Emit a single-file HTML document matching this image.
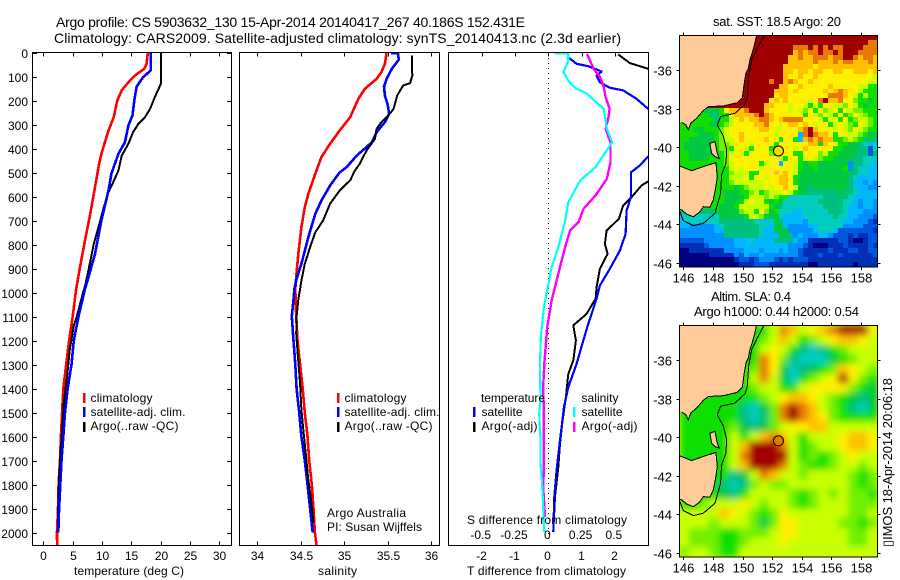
<!DOCTYPE html>
<html lang="en">
<head>
<meta charset="utf-8">
<title>Argo profile CS 5903632_130</title>
<style>
html,body{margin:0;padding:0;background:#fff;}
svg{display:block;}
text{font-family:"Liberation Sans",sans-serif;fill:#000;font-size:12px;}
.title{font-size:14px;}
.map{font-size:13px;}
</style>
</head>
<body>
<svg id="chart" xmlns="http://www.w3.org/2000/svg" width="900" height="580" viewBox="0 0 900 580">
  <defs>
    <clipPath id="clip-temp"><rect x="33" y="53" width="198" height="492"/></clipPath>
    <clipPath id="clip-sal"><rect x="240" y="53" width="199" height="492"/></clipPath>
    <clipPath id="clip-diff"><rect x="449" y="53" width="199" height="492"/></clipPath>
    <clipPath id="clip-map-sst"><rect x="679.5" y="35.5" width="198" height="231.5"/></clipPath>
    <clipPath id="clip-map-sla"><rect x="679.5" y="325.5" width="198" height="231.5"/></clipPath>
    <filter id="smooth" x="-5%" y="-5%" width="110%" height="110%"><feGaussianBlur stdDeviation="3.4"/></filter>
  </defs>

  <text class="title" x="56" y="27" textLength="469" lengthAdjust="spacing">Argo profile: CS 5903632_130 15-Apr-2014 20140417_267 40.186S 152.431E</text>
  <text class="title" x="54" y="43" textLength="567" lengthAdjust="spacing">Climatology: CARS2009. Satellite-adjusted climatology: synTS_20140413.nc (2.3d earlier)</text>

  <g id="p-temp"></g>
  <g id="p-sal"></g>
  <g id="p-diff"></g>
  <g id="m-sst"></g>
  <g id="m-sla"></g>

  <text x="74" y="575" textLength="110" lengthAdjust="spacing">temperature (deg C)</text>
  <text x="318" y="575" textLength="39" lengthAdjust="spacing">salinity</text>
  <text x="467" y="575" textLength="159" lengthAdjust="spacing">T difference from climatology</text>
  <text x="467" y="524" textLength="160" lengthAdjust="spacing">S difference from climatology</text>

  <g>
    <rect x="83" y="393" width="2.5" height="10" fill="#f00"/>
    <rect x="83" y="407" width="2.5" height="10" fill="#00f"/>
    <rect x="83" y="422" width="2.5" height="10" fill="#000"/>
    <text x="90.5" y="402" textLength="62" lengthAdjust="spacing">climatology</text>
    <text x="90.5" y="416" textLength="95" lengthAdjust="spacing">satellite-adj. clim.</text>
    <text x="90.5" y="430" textLength="88" lengthAdjust="spacing">Argo(..raw -QC)</text>
  </g>
  <g>
    <rect x="337" y="393" width="2.5" height="10" fill="#f00"/>
    <rect x="337" y="407" width="2.5" height="10" fill="#00f"/>
    <rect x="337" y="422" width="2.5" height="10" fill="#000"/>
    <text x="344.5" y="402" textLength="62" lengthAdjust="spacing">climatology</text>
    <text x="344.5" y="416" textLength="95" lengthAdjust="spacing">satellite-adj. clim.</text>
    <text x="344.5" y="430" textLength="88" lengthAdjust="spacing">Argo(..raw -QC)</text>
  </g>
  <text x="327" y="517" textLength="79" lengthAdjust="spacing">Argo Australia</text>
  <text x="327" y="531" textLength="95" lengthAdjust="spacing">PI: Susan Wijffels</text>

  <g>
    <text x="481" y="402" textLength="64" lengthAdjust="spacing">temperature</text>
    <text x="581.5" y="402" textLength="37" lengthAdjust="spacing">salinity</text>
    <rect x="473" y="407" width="2.5" height="10" fill="#00f"/>
    <rect x="473" y="422" width="2.5" height="10" fill="#000"/>
    <rect x="573" y="407" width="2.5" height="10" fill="#0ff"/>
    <rect x="573" y="422" width="2.5" height="10" fill="#f0f"/>
    <text x="481.5" y="416" textLength="41" lengthAdjust="spacing">satellite</text>
    <text x="481.5" y="430" textLength="56" lengthAdjust="spacing">Argo(-adj)</text>
    <text x="581.5" y="416" textLength="41" lengthAdjust="spacing">satellite</text>
    <text x="581.5" y="430" textLength="56" lengthAdjust="spacing">Argo(-adj)</text>
  </g>

  <text class="map" x="713" y="26" textLength="128" lengthAdjust="spacing">sat. SST: 18.5 Argo: 20</text>
  <text class="map" x="711" y="301" textLength="80" lengthAdjust="spacing">Altim. SLA: 0.4</text>
  <text class="map" x="694" y="316" textLength="165" lengthAdjust="spacing">Argo h1000: 0.44 h2000: 0.54</text>
  <text class="map" transform="translate(892,547) rotate(-90)" x="0" y="0" textLength="169" lengthAdjust="spacing">&#9647;IMOS 18-Apr-2014 20:06:18</text>
</svg>

<script>
// ---------- axis tick values ----------
const depthTicks = [0,100,200,300,400,500,600,700,800,900,1000,1100,1200,1300,1400,1500,1600,1700,1800,1900,2000];
const tempTicks = [0,5,10,15,20,25,30];
const salTicks = [34,34.5,35,35.5,36];
const tDiffTicks = [-2,-1,0,1,2];
const sDiffTicks = [-0.5,-0.25,0,0.25,0.5];
const lonTicks = [146,148,150,152,154,156,158];
const latTicks = [36,38,40,42,44,46];
const argoLon = [152.431];
const argoLat = [40.186];

// ---------- temperature profiles ----------
const tempClimDepth = [0,47,68,96,124,158,200,270,325,422,464,561,672,783,894,985,1100,1200,1300,1400,1500,1600,1700,1800,1900,2000,2055];
const tempClim = [17.8,17.6,17.2,15.6,14.5,13.35,12.6,12,11.1,9.9,9.5,8.8,8,7.1,6.25,5.6,5,4.4,3.9,3.4,3.2,3,2.85,2.6,2.5,2.33,2.35];
const tempSatDepth = [0,75,103,142,200,262,304,374,422,505,575,700,839,936,985,1100,1200,1300,1400,1500,1600,1700,1800,1900,2000];
const tempSat = [18.3,18.3,17,15.9,15.5,15.2,14.5,13.9,12.8,11.6,11.1,9.9,8.8,7.7,7.1,6,5.2,4.8,4.15,3.7,3.4,3.1,2.9,2.7,2.55];
const tempArgoDepth = [0,130,186,235,270,297,332,380,430,492,540,582,644,728,797,894,964,998,1100,1137,1240,1350,1460,1590,1700,1810,2000];
const tempArgo = [20.05,20.05,19,18.2,17.3,16.2,15.3,14.5,13.35,12.8,11.9,11.1,10.3,9.4,8.6,7.8,7.2,6.8,5.7,5.2,4.5,4.05,3.5,3.15,2.85,2.6,2.45];

// ---------- salinity profiles ----------
const salClimDepth = [0,47,82,110,151,193,270,325,380,436,505,589,644,728,839,936,985,1100,1200,1300,1400,1500,1600,1700,1800,1900,2000,2055];
const salClim = [35.49,35.47,35.43,35.375,35.24,35.165,35.07,34.95,34.84,34.74,34.67,34.59,34.55,34.51,34.475,34.45,34.44,34.45,34.465,34.495,34.525,34.55,34.58,34.6,34.63,34.65,34.665,34.685];
const salSatDepth = [2,3,30,68,110,142,180,214,255,290,332,374,400,430,478,499,554,617,672,770,881,943,985,1030,1100,1200,1300,1400,1500,1600,1700,1800,1900,2000];
const salSat = [35.54,35.62,35.63,35.55,35.49,35.46,35.47,35.5,35.52,35.47,35.375,35.32,35.24,35.145,35.03,34.95,34.84,34.74,34.67,34.59,34.51,34.455,34.43,34.42,34.4,34.42,34.44,34.455,34.485,34.51,34.55,34.58,34.61,34.64];
const salArgoDepth = [12,96,128,137,180,235,262,290,318,360,408,464,492,533,575,630,700,749,811,881,950,985,1030,1100,1170,1265,1380,1490,1600,1690,1780,1860,1960];
const salArgo = [35.78,35.785,35.76,35.68,35.61,35.57,35.51,35.43,35.375,35.355,35.26,35.18,35.125,35.07,34.95,34.84,34.76,34.67,34.61,34.55,34.51,34.495,34.475,34.455,34.45,34.47,34.495,34.51,34.54,34.565,34.59,34.62,34.65];

// ---------- difference profiles ----------
const tDiffSatDepth = [17,47,57,79,96,124,147,158,193,235,325,380,433,471,499,603,658,756,825,901,971,1026,1047,1130,1200,1297,1394,1477,1616,1741,1852,1998];
const tDiffSat = [0.57,0.85,1.2,1.6,1.45,1.55,1.85,2.25,2.65,3,3.75,3.8,3,2.75,2.48,2.48,2.35,2.32,2.15,1.85,1.55,1.45,1.4,1.2,1.05,0.85,0.6,0.47,0.35,0.25,0.18,0.15];
const tDiffArgoDepth = [8,44,68,186,464,537,554,603,637,693,742,797,839,901,978,1026,1089,1137,1200,1283,1339,1436,1533,1630,1727,1852,1998];
const tDiffArgo = [2.1,2.45,3,3.75,3.75,3,2.8,2.5,2.25,2.12,1.75,1.7,1.78,1.55,1.45,1.42,1.15,0.75,0.83,0.75,0.6,0.53,0.43,0.35,0.3,0.2,0.15];
const sDiffSatDepth = [3,5,33,82,117,147,172,235,318,374,415,478,533,624,700,811,894,1019,1061,1186,1311,1450,1505,1616,1714,1783,1894,1998];
const sDiffSat = [0.05,0.15,0.15,0.114,0.15,0.2,0.29,0.417,0.44,0.48,0.43,0.354,0.24,0.15,0.126,0.076,0.025,-0.018,-0.033,-0.056,-0.063,-0.058,-0.068,-0.058,-0.058,-0.048,-0.038,-0.03];
const sDiffArgoDepth = [5,68,103,144,186,235,276,318,374,457,526,596,651,707,742,811,894,978,1033,1075,1144,1214,1297,1394,1505,1616,1727,1811,1936];
const sDiffArgo = [0.29,0.34,0.39,0.417,0.43,0.46,0.45,0.43,0.467,0.467,0.44,0.354,0.265,0.227,0.164,0.126,0.088,0.05,0.025,0.013,-0.008,-0.018,-0.03,-0.038,-0.033,-0.033,-0.033,-0.038,-0.025];

// ---------- map geography (lon east, lat south) ----------
const mainlandLon = [150.95,150.84,150.68,150.5,150.39,150.23,150.1,149.99,149.65,148.7,147.69,147.35,146.9,146.5,146.34,146.18,145.9];
const mainlandLat = [34.18,34.6,35.03,35.46,35.9,36.16,36.76,37.4,37.68,37.85,37.89,38.09,38.49,38.75,39.1,38.84,38.7];
const tasmaniaLon = [145.7,146.56,147.35,148.2,148.3,148.18,148.03,147.8,147.35,147.13,146.68,146.23,145.9,145.7];
const tasmaniaLat = [40.95,41.21,41,40.79,41.52,42.12,42.73,43.11,43.08,43.34,43.6,43.46,43.25,43.2];
const flindersLon = [147.8,148.14,148.3,148.43,148.14,147.91];
const flindersLat = [39.79,39.7,40.31,40.57,40.48,40.31];
const isobathLon = [151.47,151,150.62,150.41,150.32,150.17,149.49,148.52,148.3,148.7,148.93,148.88,148.59,148.52,148.14,147.35,146.68,146,145.77];
const isobathLat = [34.18,34.86,35.46,36.33,37.4,37.75,38.23,38.4,38.84,39.41,40.13,40.83,41.43,42.38,43.42,43.94,44.06,43.8,43.34];

// ---------- SST grid (colour level per cell, north to south) ----------
const sstGrid = [
[14,14,14,14,14,14,14,14,14,14,14,14,14,14,14,14,14,14,14,14,14,14,14,14,14,14,14,14,14,14,14,14,14,14,14,14,14,14,14,14],
[14,14,14,14,14,14,14,14,14,14,14,14,14,14,14,14,14,14,14,14,14,14,14,14,14,14,14,14,14,14,14,14,14,14,14,14,14,14,13,13],
[14,14,14,14,14,14,14,14,14,14,14,14,14,14,14,14,14,14,14,14,14,14,14,13,13,13,14,13,14,13,14,13,13,14,14,14,14,13,13,13],
[14,14,14,14,14,14,14,14,14,14,14,14,14,14,14,14,14,14,14,14,14,14,14,12,13,12,13,13,14,13,13,14,13,14,14,14,13,13,13,13],
[14,14,14,14,14,14,14,14,14,14,14,14,14,14,14,14,14,14,14,14,14,14,12,12,13,12,12,13,13,13,12,13,13,14,14,13,12,13,13,12],
[14,14,14,14,14,14,14,14,14,14,14,14,14,14,14,14,14,14,14,14,14,14,12,12,12,12,12,13,12,12,12,13,12,13,13,12,12,12,13,12],
[14,14,14,14,14,14,14,14,14,14,14,14,14,14,14,14,14,14,14,14,14,12,12,12,12,12,12,11,12,12,12,12,12,12,12,12,12,12,12,12],
[14,14,14,14,14,14,14,14,14,14,14,14,14,14,14,14,14,14,14,14,14,12,12,11,12,12,11,12,12,11,11,12,12,11,11,12,12,12,11,12],
[14,14,14,14,14,14,14,14,14,14,14,14,14,14,14,14,14,14,14,14,14,12,11,11,12,11,11,12,11,11,11,11,11,11,11,11,11,11,11,10],
[14,14,14,14,14,14,14,14,14,14,14,14,14,14,14,14,14,14,13,14,14,12,13,12,11,11,12,11,11,11,11,11,11,11,11,11,11,11,10,10],
[14,14,14,14,14,14,14,14,14,14,14,14,14,14,14,14,14,14,14,14,12,12,11,11,12,11,11,11,11,11,12,11,11,11,11,11,10,10,8,8],
[14,14,14,14,14,14,14,14,14,14,14,14,14,14,14,14,14,14,14,12,12,12,11,12,11,11,11,11,11,12,11,12,13,12,11,11,10,8,8,8],
[14,14,14,14,14,14,14,14,14,14,14,14,14,14,14,14,14,14,14,11,12,12,11,11,11,11,11,11,11,11,13,13,13,12,11,10,8,10,8,8],
[14,14,14,14,14,14,14,14,14,14,14,14,14,14,14,14,14,14,11,12,11,12,11,11,11,11,10,11,13,14,12,12,13,11,11,9,8,8,7,8],
[14,14,14,14,14,14,14,14,14,14,14,14,14,14,14,14,14,12,12,11,11,11,10,11,11,10,8,10,8,11,11,10,10,9,11,10,8,7,8,8],
[8,8,8,8,8,7,7,7,8,11,12,12,12,13,14,14,14,12,11,11,11,11,10,11,10,9,11,8,11,9,10,11,8,11,10,9,9,8,8,8],
[8,8,8,8,8,8,6,6,8,8,11,12,12,12,12,13,14,13,12,11,11,11,11,11,11,8,11,10,9,11,10,8,11,8,9,11,10,9,8,8],
[8,8,8,8,8,8,8,6,8,8,10,11,12,11,12,12,13,13,12,11,12,13,13,13,13,11,11,11,10,8,10,11,8,11,8,9,10,10,9,8],
[8,8,8,8,8,8,7,7,8,9,10,11,11,11,11,12,12,13,11,11,10,11,12,12,11,12,11,10,11,11,8,10,11,10,9,8,11,10,9,8],
[8,8,8,7,7,8,8,8,9,10,11,11,11,11,11,11,12,12,11,10,11,11,11,11,12,13,14,12,11,11,11,10,11,10,9,11,10,9,8,8],
[8,8,8,8,7,7,7,8,9,10,11,11,12,11,11,11,11,11,11,10,11,11,11,11,4,13,14,13,12,12,11,8,11,11,10,10,9,8,7,7],
[8,8,7,7,7,7,7,8,9,10,10,11,12,11,11,11,11,12,11,11,8,11,11,8,4,12,13,12,13,12,12,8,8,9,10,9,8,6,7,6],
[8,7,7,7,7,7,7,8,9,9,10,11,11,11,10,11,11,11,11,8,11,11,11,11,11,11,12,12,8,12,11,11,8,8,7,7,6,5,4,5],
[8,7,7,7,7,7,7,8,9,9,8,11,11,10,8,11,11,11,8,7,11,11,11,10,11,12,11,11,11,11,11,8,8,7,7,7,6,6,2,5],
[8,8,7,7,7,7,7,8,8,9,10,11,10,8,11,11,11,11,9,8,11,11,11,8,8,11,11,11,9,10,8,8,7,7,7,7,6,6,2,6],
[8,8,7,7,7,7,8,8,8,9,11,11,11,11,11,11,11,11,11,11,10,8,11,11,8,10,11,10,9,8,8,7,7,7,7,6,6,5,5,5],
[8,8,8,8,8,8,8,8,8,9,10,11,11,11,11,11,8,10,11,11,4,11,11,10,8,7,8,8,7,7,7,7,7,7,3,6,6,5,5,4],
[8,8,8,8,8,8,8,8,8,8,10,11,10,11,11,11,10,11,11,11,11,11,11,10,8,7,7,8,7,7,7,7,7,8,3,6,5,5,4,4],
[8,8,8,8,8,8,8,8,8,8,9,10,10,10,8,8,11,11,11,12,11,12,11,10,7,7,7,7,7,7,7,7,7,7,7,6,5,5,4,4],
[8,8,8,8,8,8,8,8,8,8,10,10,10,11,8,11,11,10,11,11,12,12,11,8,7,7,7,7,7,7,7,7,7,7,6,5,4,4,4,4],
[8,8,8,8,8,8,8,8,8,8,9,10,10,10,10,10,10,11,11,11,12,12,11,8,7,7,7,7,7,7,7,7,7,7,6,4,4,3,4,3],
[8,8,8,8,8,8,8,8,8,8,8,7,8,9,10,10,10,11,10,11,11,12,11,10,7,7,6,7,7,7,7,7,7,7,6,5,4,4,3,3],
[8,8,8,8,8,8,8,8,8,7,7,7,8,8,9,10,8,9,10,10,10,11,10,8,7,7,6,6,6,6,6,6,7,6,6,5,4,4,4,4],
[8,8,8,8,8,8,8,8,8,7,7,7,7,8,10,10,10,9,10,9,8,8,5,5,5,5,5,5,5,6,6,6,6,6,5,4,4,4,4,4],
[8,8,8,8,8,8,8,8,8,7,7,7,8,10,11,10,10,8,7,8,7,5,5,5,5,5,5,5,6,6,6,6,6,5,5,4,3,4,4,3],
[8,8,8,8,8,8,8,8,7,7,7,8,10,10,10,10,10,10,8,7,6,5,5,5,5,5,5,5,5,6,6,6,6,5,4,4,3,4,4,3],
[6,6,6,6,6,6,6,7,7,7,7,7,9,10,10,8,11,9,7,8,5,5,5,4,4,5,5,5,5,5,6,6,6,5,4,4,4,3,3,3],
[5,5,5,5,5,5,5,5,7,7,7,7,6,8,10,10,9,7,7,7,5,4,4,4,4,5,5,5,5,5,5,6,5,5,4,4,3,3,3,2],
[4,5,5,5,5,5,5,5,6,6,6,6,6,6,6,5,5,4,5,7,6,4,4,4,4,3,5,5,5,5,5,5,5,4,4,3,3,3,2,1],
[4,4,3,3,3,3,3,4,5,6,6,6,6,6,6,6,5,5,4,7,7,4,3,3,3,3,4,4,5,5,5,5,5,3,3,3,3,2,2,2],
[3,3,3,3,3,3,3,4,4,6,6,6,6,6,6,6,5,4,4,7,7,7,3,3,3,3,3,4,5,5,5,4,2,2,2,2,2,2,2,1],
[3,3,3,3,3,3,3,3,3,6,6,6,6,6,6,6,5,4,4,4,7,7,6,3,4,3,3,3,4,4,3,2,2,2,1,2,1,1,2,2],
[2,2,2,2,2,3,3,3,3,3,3,4,4,4,5,4,4,4,4,6,6,6,6,4,3,3,1,1,1,1,1,1,2,2,1,0,0,1,2,2],
[1,1,1,1,1,2,3,3,3,3,3,4,4,4,4,4,4,4,4,4,4,4,3,3,3,2,1,0,0,0,1,1,1,2,1,1,1,1,2,1],
[0,0,1,1,1,1,1,1,1,3,3,3,3,4,4,4,3,4,4,4,3,4,3,3,2,1,1,1,1,1,2,1,1,1,2,2,1,1,2,2],
[0,0,0,0,0,0,1,1,1,1,1,3,2,4,3,3,4,3,3,3,3,3,3,3,2,1,1,1,2,1,1,1,2,1,1,1,1,1,1,2],
[0,0,0,0,0,0,0,0,0,0,0,1,2,2,1,2,3,3,3,2,1,2,1,2,2,2,1,1,1,1,1,1,1,1,1,1,1,1,1,1],
[0,0,0,0,0,0,0,0,0,0,0,0,1,1,1,2,2,2,1,1,1,1,1,1,1,1,0,0,1,1,1,1,1,1,1,0,1,1,1,1]
];

// ---------- SLA grid (colour level per cell, north to south) ----------
const slaGrid = [
[8,8,8,8,8,8,8,8,8,10,13,12,10,11,12,13,14,14,14,11],
[8,8,8,8,8,8,8,8,9,10,12,10,8,9,10,11,12,12,11,10],
[8,8,8,8,8,8,8,8,10,11,10,8,6,5,6,8,9,10,10,10],
[8,8,8,8,8,8,8,8,13,11,9,6,5,5,5,7,8,9,10,10],
[8,8,8,8,8,8,8,9,13,11,7,5,6,7,8,9,12,11,10,9],
[8,8,8,8,8,8,8,10,13,10,7,5,8,9,10,11,14,11,9,8],
[8,8,8,8,8,8,8,9,10,10,8,8,10,11,11,11,11,9,8,7],
[8,8,8,8,8,8,8,8,9,10,11,12,12,11,10,9,8,7,6,7],
[8,8,8,8,8,8,6,5,7,9,13,14,13,12,10,9,8,6,5,7],
[8,8,8,8,8,8,6,5,6,9,13,14,13,12,11,9,8,8,8,8],
[8,8,8,8,8,9,7,6,7,9,10,11,11,12,12,10,10,10,10,10],
[8,8,8,8,8,10,8,10,12,13,12,10,8,10,10,10,11,12,12,11],
[8,8,8,8,8,10,12,14,14,14,13,10,8,9,10,10,11,12,12,11],
[8,8,8,8,8,10,13,14,14,14,14,10,8,9,8,9,10,11,10,10],
[8,8,8,8,8,10,12,14,14,14,13,10,9,8,8,9,10,10,9,10],
[8,8,8,8,8,6,7,10,13,12,10,10,9,10,10,10,10,9,8,9],
[8,8,8,8,6,5,6,9,10,9,9,10,10,10,10,10,10,9,8,9],
[8,8,8,8,7,6,8,10,10,10,10,9,8,9,10,9,10,9,9,8],
[8,8,9,10,10,10,11,10,9,10,10,9,8,9,10,10,10,9,9,9],
[10,10,10,10,12,11,10,9,8,9,11,10,10,10,10,10,10,9,9,10],
[10,10,10,9,10,10,10,9,7,9,11,11,10,10,10,10,9,9,8,9],
[10,9,9,9,8,8,9,9,9,10,11,11,10,10,10,10,10,9,9,10],
[10,9,9,9,8,8,9,10,10,10,11,10,10,10,10,10,10,9,9,10],
[9,10,10,9,8,8,10,10,10,10,10,10,10,10,10,10,10,10,10,10]
];

const levelColors = ['#000080','#0030b8','#0058e0','#0090ff','#00b8ff','#00ccc0','#00c080','#00c840','#10e000','#70f000','#c8ff00','#fff000','#ffc000','#e87800','#a00000'];

// ---------- axis functions ----------
const NS = 'http://www.w3.org/2000/svg';
const yDepth = d => 52.5 + d * 0.24;
const xTemp = v => 43.3 + v * 5.87;
const xSal = v => 257 + (v - 34) * 87;
const xTDiff = v => 548.3 + v * 33.3;
const xSDiff = v => 548.3 + v * 133.2;
const xLon = v => 683.3 + (v - 146) * 14.8;
const ySstLat = v => 70.3 + (v - 36) * 19.27;
const ySlaLat = v => 360 + (v - 36) * 19.3;

function make(tag, parent, attrs) {
  const el = document.createElementNS(NS, tag);
  for (const k in attrs) el.setAttribute(k, attrs[k]);
  parent.appendChild(el);
  return el;
}
function label(parent, str, x, y, anchor, name, cls) {
  const el = make('text', parent, {x: x, y: y, 'text-anchor': anchor});
  
  
  if (cls) el.setAttribute('class', cls);
  el.textContent = str;
  return el;
}
function tick(parent, x1, y1, x2, y2, name) {
  const el = make('line', parent, {x1: x1, y1: y1, x2: x2, y2: y2, stroke: '#000', 'stroke-width': 1, 'shape-rendering': 'crispEdges'});
  
  
}
function box(parent, x, y, w, h, name) {
  const el = make('rect', parent, {x: x, y: y, width: w, height: h, fill: 'none', stroke: '#000', 'stroke-width': 1, 'shape-rendering': 'crispEdges'});
  
  
}
function profile(parent, depths, values, xf, color, width, name) {
  const pts = values.map((v, i) => xf(v).toFixed(1) + ',' + yDepth(depths[i]).toFixed(1)).join(' ');
  const el = make('polyline', parent, {points: pts, fill: 'none', stroke: color, 'stroke-width': width, 'stroke-linejoin': 'round', 'shape-rendering': 'crispEdges'});
  
  
}

// ---------- profile panels ----------
const pTemp = document.getElementById('p-temp');
const pSal = document.getElementById('p-sal');
const pDiff = document.getElementById('p-diff');
const top0 = 52.5, bot0 = 545.5;

const gTemp = make('g', pTemp, {'clip-path': 'url(#clip-temp)'});
profile(gTemp, tempClimDepth, tempClim, xTemp, '#f00', 2.6, 'temperature-climatology-line');
profile(gTemp, tempArgoDepth, tempArgo, xTemp, '#000', 2, 'temperature-argo-line');
profile(gTemp, tempSatDepth, tempSat, xTemp, '#00f', 2.6, 'temperature-satellite-line');
box(pTemp, 32.5, top0, 199, 493, 'temperature-plot-frame');
depthTicks.forEach(d => {
  const y = Math.round(yDepth(d)) + 0.5;
  label(pTemp, String(d), 28, y + 4.5, 'end', 'depth-tick-label');
  tick(pTemp, 32.5, y, 37, y, 'depth-tick-left');
  tick(pTemp, 227, y, 231.5, y, 'depth-tick-right');
});
tempTicks.forEach(v => {
  const x = Math.round(xTemp(v)) + 0.5;
  label(pTemp, String(v), x, 560, 'middle', 'temperature-tick-label');
  tick(pTemp, x, top0, x, top0 + 4, 'temperature-tick-top');
  tick(pTemp, x, bot0 - 4, x, bot0, 'temperature-tick-bottom');
});

const gSal = make('g', pSal, {'clip-path': 'url(#clip-sal)'});
profile(gSal, salClimDepth, salClim, xSal, '#f00', 2.6, 'salinity-climatology-line');
profile(gSal, salSatDepth, salSat, xSal, '#00f', 2.6, 'salinity-satellite-line');
profile(gSal, salArgoDepth, salArgo, xSal, '#000', 2, 'salinity-argo-line');
box(pSal, 239.5, top0, 200, 493, 'salinity-plot-frame');
salTicks.forEach(v => {
  const x = Math.round(xSal(v)) + 0.5;
  label(pSal, String(v), x, 560, 'middle', 'salinity-tick-label');
  tick(pSal, x, top0, x, top0 + 4, 'salinity-tick-top');
  tick(pSal, x, bot0 - 4, x, bot0, 'salinity-tick-bottom');
});

const dotted = make('line', pDiff, {x1: 548.5, y1: 53, x2: 548.5, y2: 540, stroke: '#000', 'stroke-width': 1, 'stroke-dasharray': '1 4', 'shape-rendering': 'crispEdges'});


const gDiff = make('g', pDiff, {'clip-path': 'url(#clip-diff)'});
profile(gDiff, tDiffArgoDepth, tDiffArgo, xTDiff, '#000', 2, 't-difference-argo-line');
profile(gDiff, tDiffSatDepth, tDiffSat, xTDiff, '#00f', 2.2, 't-difference-satellite-line');
profile(gDiff, sDiffArgoDepth, sDiffArgo, xSDiff, '#f0f', 2.4, 's-difference-argo-line');
profile(gDiff, sDiffSatDepth, sDiffSat, xSDiff, '#0ff', 2.2, 's-difference-satellite-line');
box(pDiff, 448.5, top0, 200, 493, 'difference-plot-frame');
tDiffTicks.forEach(v => {
  const x = Math.round(xTDiff(v)) + 0.5;
  label(pDiff, String(v), x - 1, 560, 'middle', 't-difference-tick-label');
  tick(pDiff, x, top0, x, top0 + 4, 'difference-tick-top');
});
sDiffTicks.forEach(v => {
  label(pDiff, String(v), xSDiff(v) - 1, 539, 'middle', 's-difference-tick-label');
});

// ---------- maps ----------
function polyPts(lons, lats, yf) {
  return lons.map((v, i) => xLon(v).toFixed(1) + ',' + yf(lats[i]).toFixed(1)).join(' ');
}
function drawMap(parentId, grid, clipId, yf, top, bottom, smooth, circleFill, prefix) {
  const p = document.getElementById(parentId);
  const g = make('g', p, {'clip-path': 'url(#' + clipId + ')'});
  const left = 679.5, right = 877.5;
  const base = make('rect', g, {x: left, y: top, width: right - left, height: bottom - top, fill: '#c8ff00'});
  
  
  const cells = make('g', g, smooth ? {filter: 'url(#smooth)'} : {'shape-rendering': 'crispEdges'});
  
  
  const nr = grid.length, nc = grid[0].length;
  const cw = (right - left) / nc, ch = (bottom - top) / nr;
  grid.forEach((row, r) => row.forEach((v, c) => {
    const x0 = Math.round(left + c * cw), x1 = Math.round(left + (c + 1) * cw);
    const y0 = Math.round(top + r * ch), y1 = Math.round(top + (r + 1) * ch);
    const cell = make('rect', cells, {x: x0, y: y0, width: x1 - x0, height: y1 - y0, fill: levelColors[Math.max(0, Math.min(14, Math.round(v)))]});
    
    
  }));
  const land = '#ffcc99';
  const main = make('polygon', g, {points: polyPts(mainlandLon, mainlandLat, yf) + ' ' + xLon(145.6) + ',' + yf(38.7) + ' ' + xLon(145.6) + ',' + yf(34) + ' ' + xLon(150.95) + ',' + yf(34), fill: land});
  
  
  const tas = make('polygon', g, {points: polyPts(tasmaniaLon, tasmaniaLat, yf), fill: land});
  
  
  const fl = make('polygon', g, {points: polyPts(flindersLon, flindersLat, yf), fill: land, stroke: '#000', 'stroke-width': 1});
  
  
  const mc = make('polyline', g, {points: polyPts(mainlandLon, mainlandLat, yf), fill: 'none', stroke: '#000', 'stroke-width': 1, 'shape-rendering': 'crispEdges'});
  
  
  const tc = make('polyline', g, {points: polyPts(tasmaniaLon, tasmaniaLat, yf), fill: 'none', stroke: '#000', 'stroke-width': 1, 'shape-rendering': 'crispEdges'});
  
  
  const iso = make('polyline', g, {points: polyPts(isobathLon, isobathLat, yf), fill: 'none', stroke: '#000', 'stroke-width': 1, 'shape-rendering': 'crispEdges'});
  
  
  const dot = make('circle', g, {cx: xLon(argoLon[0]), cy: yf(argoLat[0]), r: 5, fill: circleFill, stroke: '#000', 'stroke-width': 1});
  
  
  box(p, left, top, right - left, bottom - top, prefix + '-map-frame');
  lonTicks.forEach(v => {
    const x = Math.round(xLon(v)) + 0.5;
    label(p, String(v), x, bottom + 15.5, 'middle', 'longitude-tick-label', 'map');
    tick(p, x, top - 3, x, top, 'longitude-tick-top');
    tick(p, x, bottom, x, bottom + 3, 'longitude-tick-bottom');
  });
  latTicks.forEach(v => {
    const y = Math.round(yf(v)) + 0.5;
    label(p, '-' + v, 672, y + 5, 'end', 'latitude-tick-label', 'map');
    tick(p, left - 3, y, left, y, 'latitude-tick-left');
    tick(p, right, y, right + 3, y, 'latitude-tick-right');
  });
}
drawMap('m-sst', sstGrid, 'clip-map-sst', ySstLat, 35.5, 267, false, '#ffd800', 'sst');
drawMap('m-sla', slaGrid, 'clip-map-sla', ySlaLat, 325.5, 557, true, '#e87800', 'sla');
</script>
</body>
</html>
